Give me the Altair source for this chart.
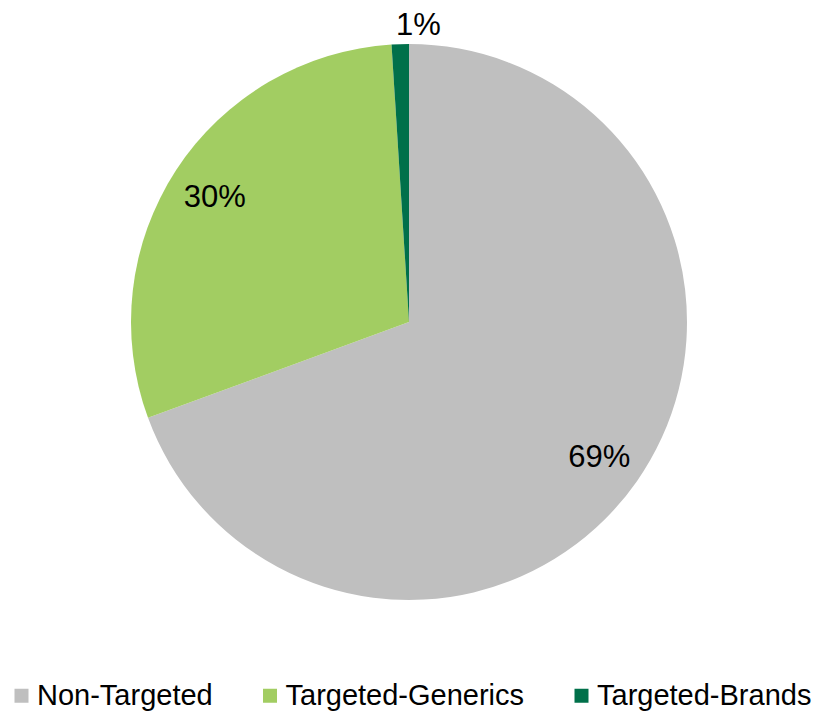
import altair as alt
import pandas as pd

categories = ["Non-Targeted", "Targeted-Generics", "Targeted-Brands"]
values = [69.4, 29.6, 1.0]
labels = ["69%", "30%", "1%"]
colors = ["#BFBFBF", "#A2CD62", "#00704A"]

df = pd.DataFrame({"category": categories, "value": values, "label": labels,
                   "order": [0, 1, 2]})

CX, CY, R = 409, 322, 278

base = alt.Chart(df).encode(
    theta=alt.Theta("value:Q", stack=True),
    order=alt.Order("order:Q"),
)

arc = base.mark_arc(radius=R, stroke=None).encode(
    x=alt.value(CX), y=alt.value(CY),
    color=alt.Color(
        "category:N",
        scale=alt.Scale(domain=categories, range=colors),
        sort=categories,
        legend=alt.Legend(
            title=None, orient="none", direction="horizontal",
            legendX=7, legendY=681,
            symbolType="square", symbolSize=196, symbolStrokeWidth=0,
            labelFont="Liberation Sans", labelFontSize=29, labelColor="#000000",
            labelOffset=1, columnPadding=42.5, labelLimit=400,
        ),
    ),
)

inner = base.transform_filter(alt.datum.value > 5).mark_text(
    radius=232, font="Liberation Sans", fontSize=31, color="#000000", dy=3
).encode(x=alt.value(CX), y=alt.value(CY), text="label:N")

outer = base.transform_filter(alt.datum.value <= 5).mark_text(
    radius=296, font="Liberation Sans", fontSize=31, color="#000000"
).encode(x=alt.value(CX), y=alt.value(CY), text="label:N")

chart = alt.layer(arc, inner, outer).properties(
    width=817, height=712, autosize=alt.AutoSizeParams(type="none"), padding=0
).configure_view(stroke=None)

chart.save("out.html", embed_options={"renderer": "svg", "actions": False})
